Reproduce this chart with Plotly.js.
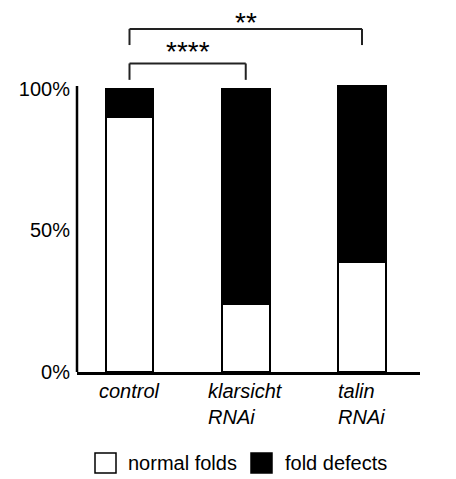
<!DOCTYPE html>
<html>
<head>
<meta charset="utf-8">
<script src="https://cdn.plot.ly/plotly-3.0.1.min.js"></script>
<style>html,body{margin:0;padding:0;background:#fff;}#chart{width:456px;height:479px;}</style>
</head>
<body>
<div id="chart"></div>
<script>
// ---- data ----
var categories = ['control', 'klarsicht RNAi', 'talin RNAi'];
var categoryLabels = ['control', 'klarsicht<br>RNAi', 'talin<br>RNAi'];
var normalFolds = [90, 24, 39];
var foldDefects = [10, 76, 62];
var yTickVals = [0, 50, 100];
var yTickText = ['0%', '50%', '100%'];
var seriesNames = ['normal folds', 'fold defects'];
var comparisons = [
  {from: 0, to: 1, label: '****'},
  {from: 0, to: 2, label: '**'}
];

// ---- layout helpers (pixel -> paper) ----
var W = 456, H = 479;
var mL = 77, mR = 36, mT = 4, mB = 107;
var pw = W - mL - mR, ph = H - mT - mB;
function px(x) { return (x - mL) / pw; }
function py(y) { return (H - mB - y) / ph; }

var FONT = 'Liberation Sans, Arial, sans-serif';

var traces = [
  {type: 'bar', name: seriesNames[0], x: categories, y: normalFolds, width: 0.41,
   marker: {color: '#ffffff', line: {color: '#000000', width: 2}}},
  {type: 'bar', name: seriesNames[1], x: categories, y: foldDefects, width: 0.41,
   marker: {color: '#000000', line: {color: '#000000', width: 2}}}
];

var shapes = [];
var annotations = [];

// y axis line (stops just above 100%)
shapes.push({type: 'line', xref: 'paper', yref: 'y', x0: 0, x1: 0, y0: 0, y1: 101,
  line: {color: '#000', width: 2.5}});

// significance brackets
var bracketLevels = [{top: 109, end: 103.2, text: 113.2}, {top: 121.2, end: 115.5, text: 123.4}];
comparisons.forEach(function (c, i) {
  var lv = bracketLevels[i];
  var a = categories[c.from], b = categories[c.to];
  var ln = {color: '#222', width: 2};
  shapes.push({type: 'line', xref: 'x', yref: 'y', x0: a, x1: b, y0: lv.top, y1: lv.top, line: ln});
  shapes.push({type: 'line', xref: 'x', yref: 'y', x0: a, x1: a, y0: lv.end, y1: lv.top, line: ln});
  shapes.push({type: 'line', xref: 'x', yref: 'y', x0: b, x1: b, y0: lv.end, y1: lv.top, line: ln});
  annotations.push({xref: 'x', yref: 'y', x: (c.from + c.to) / 2, y: lv.text, text: c.label,
    showarrow: false, xanchor: 'center', yanchor: 'middle',
    font: {family: FONT, size: 28, color: '#000'}});
});

// category labels (italic, first line centered, left aligned block)
categoryLabels.forEach(function (t, i) {
  annotations.push({xref: 'x', yref: 'y', x: i, y: 0, yshift: -6, text: '<i>' + t + '</i>',
    showarrow: false, xanchor: 'center', yanchor: 'top', align: 'left',
    font: {family: FONT, size: 20, color: '#000'}});
});

// legend (manual, large square swatches)
var legendItems = [
  {name: seriesNames[0], fill: '#ffffff', box: 95, text: 126},
  {name: seriesNames[1], fill: '#000000', box: 251, text: 283}
];
legendItems.forEach(function (it) {
  shapes.push({type: 'rect', xref: 'paper', yref: 'paper',
    x0: px(it.box), x1: px(it.box + 21), y0: py(473), y1: py(453),
    fillcolor: it.fill, line: {color: '#000', width: 1.5}});
  annotations.push({xref: 'paper', yref: 'paper', x: px(it.text), y: py(463), text: it.name,
    showarrow: false, xanchor: 'left', yanchor: 'middle',
    font: {family: FONT, size: 20, color: '#000'}});
});

var layout = {
  width: W, height: H,
  margin: {l: mL, r: mR, t: mT, b: mB, pad: 0},
  paper_bgcolor: '#fff', plot_bgcolor: '#fff',
  barmode: 'stack',
  showlegend: false,
  font: {family: FONT, size: 20, color: '#000'},
  xaxis: {type: 'category', range: [-0.4516, 2.499], showgrid: false, zeroline: false,
    showticklabels: false, ticks: '', showline: true, linecolor: '#000', linewidth: 2.5,
    fixedrange: true},
  yaxis: {range: [0, 130], showgrid: false, zeroline: false, showline: false,
    tickvals: yTickVals, ticktext: yTickText, ticks: '', ticklabelstandoff: 6,
    tickfont: {family: FONT, size: 20, color: '#000'}, fixedrange: true},
  shapes: shapes,
  annotations: annotations
};

Plotly.newPlot('chart', traces, layout, {displayModeBar: false, staticPlot: true});
</script>
</body>
</html>
